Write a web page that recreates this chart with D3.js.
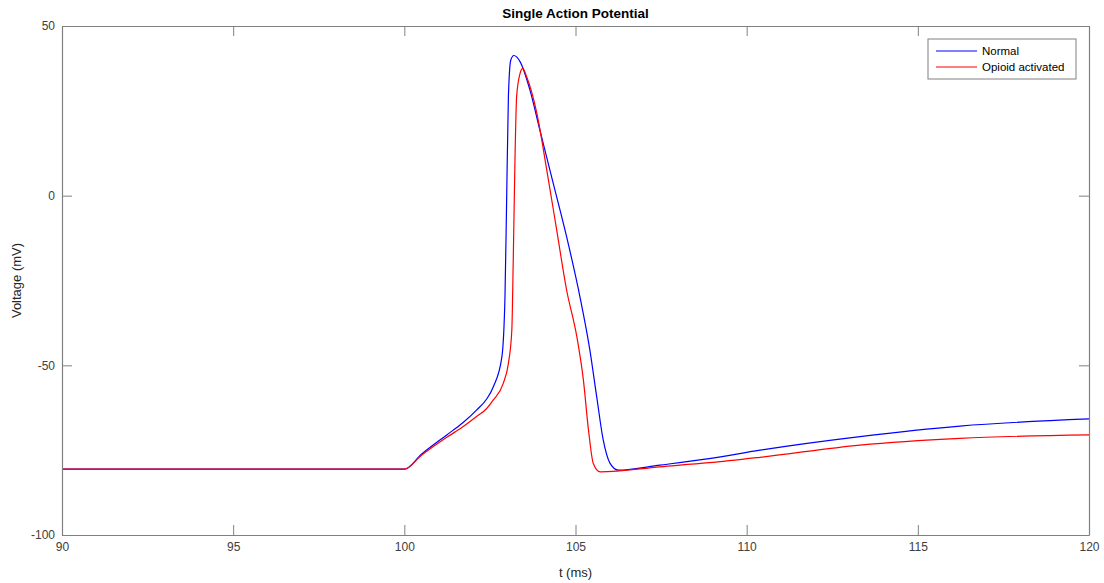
<!DOCTYPE html>
<html>
<head>
<meta charset="utf-8">
<script src="https://cdn.jsdelivr.net/npm/d3@7"></script>
<style>
  body { margin: 0; background: #fff; }
  text { font-family: "Liberation Sans", Arial, sans-serif; }
</style>
</head>
<body>
<script>
// values (t in ms, V in mV)
let normalT = [90, 100, 100.5, 101.24, 101.7, 102.11, 102.4, 102.6, 102.85, 102.94, 102.99, 103.04, 103.11, 103.2, 103.38, 103.67, 103.96, 104.35, 104.74, 105.13, 105.42, 105.62, 105.81, 106.01, 106.25, 107.47, 108.9, 110.39, 113.31, 116.23, 120];
let normalV = [-80.6, -80.6, -76.2, -70.5, -67.0, -63.2, -60.0, -56.3, -47.5, -29.8, -0.3, 29.2, 40, 41.3, 39.5, 31.1, 19.3, 3.6, -12.1, -29.8, -45.5, -59.3, -72, -78.9, -80.9, -79.4, -77.5, -75, -71, -67.9, -65.8];

let opioidT = [90, 100, 100.5, 101.24, 101.7, 102.11, 102.4, 102.6, 102.89, 103.04, 103.14, 103.18, 103.23, 103.28, 103.38, 103.46, 103.57, 103.87, 104.16, 104.45, 104.74, 105.04, 105.23, 105.38, 105.52, 105.72, 107.47, 108.9, 110.39, 113.31, 116.23, 120];
let opioidV = [-80.6, -80.6, -76.5, -71.2, -68.2, -65.1, -62.8, -60.2, -55.3, -49.4, -39.6, -19.9, 9.5, 29.2, 36, 37.5, 35.1, 24.3, 7.6, -10.1, -27.8, -41.6, -54.3, -69.1, -78.9, -81.4, -79.9, -78.7, -77.1, -73.5, -71.5, -70.5];

let xTicks = [90, 95, 100, 105, 110, 115, 120];
let yTicks = [-100, -50, 0, 50];
let seriesNames = ["Normal", "Opioid activated"];
let seriesColors = ["#0000ff", "#ff0000"];

let w = 1104, h = 583;
let margin = {top: 26, right: 15, bottom: 48, left: 62};

let svg = d3.select("body").append("svg").attr("width", w).attr("height", h);

let xScale = d3.scaleLinear().domain([90, 120]).range([margin.left, w - margin.right]);
let yScale = d3.scaleLinear().domain([-100, 50]).range([h - margin.bottom, margin.top]);

let axisColor = "#808080";
let tickLen = 10;

// curves (drawn first so the frame sits on top)
let series = [
  normalT.map((t, i) => [t, normalV[i]]),
  opioidT.map((t, i) => [t, opioidV[i]])
];
let line = d3.line()
  .x(d => xScale(d[0]))
  .y(d => yScale(d[1]))
  .curve(d3.curveMonotoneX);

svg.selectAll(".trace").data(series).enter().append("path")
  .attr("class", "trace")
  .attr("d", line)
  .attr("fill", "none")
  .attr("stroke", (d, i) => seriesColors[i])
  .attr("stroke-width", 1.2);

// axes, ticks pointing inward on all four sides
function styleAxis(g) {
  g.select(".domain").attr("stroke", axisColor).attr("stroke-width", 1.2);
  g.selectAll(".tick line").attr("stroke", axisColor);
  g.selectAll(".tick text").attr("fill", "#404040").attr("font-size", "12px")
    .attr("font-family", "Liberation Sans, Arial, sans-serif");
}

let plain = d => String(d); // hyphen minus like the original

let x0 = xScale.range()[0], x1 = xScale.range()[1];
let y0 = yScale.range()[0], y1 = yScale.range()[1];

svg.append("g").attr("transform", "translate(0," + y0 + ")")
  .call(d3.axisBottom(xScale).tickValues(xTicks).tickFormat(plain).tickSizeInner(-tickLen).tickSizeOuter(0).tickPadding(7))
  .call(styleAxis);
svg.append("g").attr("transform", "translate(0," + y1 + ")")
  .call(d3.axisTop(xScale).tickValues(xTicks).tickSizeInner(-tickLen).tickSizeOuter(0).tickFormat(""))
  .call(styleAxis);
svg.append("g").attr("transform", "translate(" + x0 + ",0)")
  .call(d3.axisLeft(yScale).tickValues(yTicks).tickFormat(plain).tickSizeInner(-tickLen).tickSizeOuter(0).tickPadding(7))
  .call(styleAxis);
svg.append("g").attr("transform", "translate(" + x1 + ",0)")
  .call(d3.axisRight(yScale).tickValues(yTicks).tickSizeInner(-tickLen).tickSizeOuter(0).tickFormat(""))
  .call(styleAxis);

// title and axis labels
svg.append("text")
  .attr("x", (x0 + x1) / 2).attr("y", 18)
  .attr("text-anchor", "middle")
  .attr("font-size", "13.5px").attr("font-weight", "bold").attr("fill", "#000")
  .text("Single Action Potential");

svg.append("text")
  .attr("x", (x0 + x1) / 2).attr("y", 577)
  .attr("text-anchor", "middle")
  .attr("font-size", "13px").attr("fill", "#262626")
  .text("t (ms)");

svg.append("text")
  .attr("transform", "translate(21," + (y0 + y1) / 2 + ") rotate(-90)")
  .attr("text-anchor", "middle")
  .attr("font-size", "13px").attr("fill", "#262626")
  .text("Voltage (mV)");

// legend
let legend = svg.append("g").attr("transform", "translate(928,39)");
legend.append("rect")
  .attr("width", 148).attr("height", 40)
  .attr("fill", "#fff").attr("stroke", axisColor).attr("stroke-width", 1);
seriesNames.forEach((name, i) => {
  let ly = 12 + i * 16;
  legend.append("line")
    .attr("x1", 8).attr("x2", 49).attr("y1", ly).attr("y2", ly)
    .attr("stroke", seriesColors[i]).attr("stroke-width", 1.2);
  legend.append("text")
    .attr("x", 54).attr("y", ly + 4)
    .attr("font-size", "11.5px").attr("fill", "#000")
    .text(name);
});
</script>
</body>
</html>
